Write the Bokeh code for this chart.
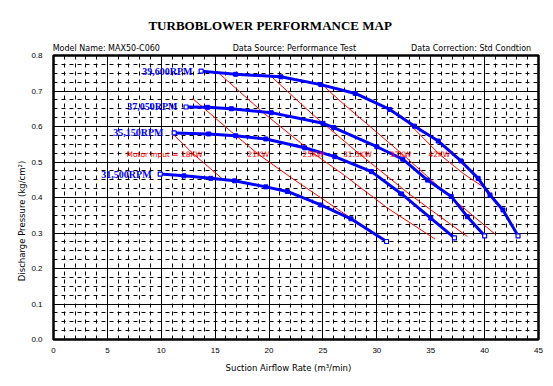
from bokeh.plotting import figure
from bokeh.models import Range1d, SingleIntervalTicker, FixedTicker, Label, LinearAxis, PrintfTickFormatter
from bokeh.embed import file_html
from bokeh.resources import INLINE

# ---- data ----
rpm_names = ["39,600RPM", "37,050RPM", "35,150RPM", "31,500RPM"]
rpm39600_x = [13.7, 16.9, 21.1, 24.8, 28.0, 31.2, 33.5, 35.7, 37.8, 39.4, 40.5, 41.7, 43.1]
rpm39600_y = [0.756, 0.747, 0.740, 0.718, 0.693, 0.648, 0.601, 0.559, 0.503, 0.454, 0.407, 0.365, 0.292]
rpm37050_x = [12.3, 14.3, 16.5, 20.2, 25.0, 26.0, 30.0, 32.4, 34.7, 36.9, 38.4, 40.0]
rpm37050_y = [0.655, 0.654, 0.650, 0.639, 0.609, 0.597, 0.543, 0.508, 0.449, 0.403, 0.346, 0.292]
rpm35150_x = [11.2, 14.4, 16.9, 19.7, 23.3, 26.1, 29.5, 32.3, 35.0, 37.2]
rpm35150_y = [0.582, 0.579, 0.574, 0.565, 0.540, 0.515, 0.473, 0.410, 0.342, 0.286]
rpm31500_x = [9.9, 12.1, 14.6, 16.8, 19.7, 21.7, 24.8, 27.6, 30.9]
rpm31500_y = [0.466, 0.461, 0.454, 0.447, 0.430, 0.417, 0.379, 0.340, 0.276]
rpm_label_x = [12.9, 11.5, 10.2, 9.1]

power_names = ["Motor Input = 18KW", "21KW", "25KW", "31.5KW", "37KW", "42KW"]
power_label_x = [10.3, 19.0, 24.1, 28.2, 32.2, 35.8]
power_label_y = 0.521
kw18_x = [11.1, 13.0, 15.8]
kw18_y = [0.578, 0.522, 0.449]
kw21_x = [12.9, 16.5, 19.0, 22.0, 26.7, 30.9]
kw21_y = [0.679, 0.585, 0.522, 0.457, 0.360, 0.276]
kw25_x = [15.2, 19.5, 24.1, 26.7, 31.0, 35.4]
kw25_y = [0.754, 0.638, 0.525, 0.469, 0.370, 0.283]
kw315_x = [20.1, 24.0, 28.3, 33.0, 38.4]
kw315_y = [0.744, 0.635, 0.525, 0.410, 0.290]
kw37_x = [25.0, 26.7, 32.3, 36.5, 41.0]
kw37_y = [0.716, 0.669, 0.524, 0.410, 0.296]
kw42_x = [32.2, 35.8, 38.0, 40.3, 41.8]
kw42_y = [0.632, 0.522, 0.468, 0.421, 0.357]

title_text = "TURBOBLOWER PERFORMANCE MAP"
title_x = 20.1
header_texts = ["Model Name: MAX50-C060", "Data Source: Performance Test", "Data Correction: Std Condtion"]
header_x = [4.9, 22.35, 38.75]
x_title = "Suction Airflow Rate (m\u00b3/min)"
x_title_pos = 21.8
y_title = "Discharge Pressure (kg/cm\u00b2)"
y_title_pos = 0.334

BLUE = "#0000FF"
RED = "#FF0000"

p = figure(width=545, height=376, output_backend="svg", toolbar_location=None,
           x_range=Range1d(0, 45), y_range=Range1d(0, 0.8),
           min_border_left=53, min_border_right=7, min_border_top=55, min_border_bottom=37)
p.background_fill_color = "white"
p.border_fill_color = "white"
p.outline_line_color = "black"
p.outline_line_width = 2.5


def plain_axis(ax, font, size, standoff, style="normal"):
    ax.axis_line_color = None
    ax.major_tick_line_color = None
    ax.minor_tick_line_color = None
    ax.major_tick_out = 0
    ax.major_tick_in = 0
    ax.minor_tick_out = 0
    ax.minor_tick_in = 0
    ax.major_label_text_font = font
    ax.major_label_text_font_size = size
    ax.major_label_text_font_style = style
    ax.major_label_text_color = "black"
    ax.major_label_standoff = standoff


x_ticker = SingleIntervalTicker(interval=5, num_minor_ticks=5)
y_ticker = SingleIntervalTicker(interval=0.1, num_minor_ticks=4)
xa = p.xaxis[0]
ya = p.yaxis[0]
xa.ticker = x_ticker
ya.ticker = y_ticker
ya.formatter = PrintfTickFormatter(format="%.1f")
plain_axis(xa, "Liberation Sans", "8px", 8)
plain_axis(ya, "Liberation Sans", "8px", 11)

xg = p.xgrid[0]
yg = p.ygrid[0]
xg.ticker = x_ticker
yg.ticker = y_ticker
for g in (xg, yg):
    g.grid_line_color = "black"
    g.grid_line_width = 1
    g.grid_line_alpha = 1.0
    g.minor_grid_line_color = "black"
    g.minor_grid_line_width = 1
    g.minor_grid_line_dash = "4 4"

# header row (closest above the frame) and title (above it)
hdr = LinearAxis(ticker=FixedTicker(ticks=header_x),
                 major_label_overrides={hx: t for hx, t in zip(header_x, header_texts)})
plain_axis(hdr, "DejaVu Sans", "8px", 3)
p.add_layout(hdr, "above")
ttl = LinearAxis(ticker=FixedTicker(ticks=[title_x]),
                 major_label_overrides={title_x: title_text})
plain_axis(ttl, "Liberation Serif", "13px", 8, "bold")
p.add_layout(ttl, "above")

# axis titles
xt = LinearAxis(ticker=FixedTicker(ticks=[x_title_pos]),
                major_label_overrides={x_title_pos: x_title})
plain_axis(xt, "DejaVu Sans", "8.5px", 7)
p.add_layout(xt, "below")
yt = LinearAxis(ticker=FixedTicker(ticks=[y_title_pos]),
                major_label_overrides={y_title_pos: y_title}, major_label_orientation="vertical")
plain_axis(yt, "DejaVu Sans", "8.5px", 1)
p.add_layout(yt, "left")

# power lines
for xs, ys in [(kw18_x, kw18_y), (kw21_x, kw21_y), (kw25_x, kw25_y),
               (kw315_x, kw315_y), (kw37_x, kw37_y), (kw42_x, kw42_y)]:
    p.line(xs, ys, line_color=RED, line_width=1)

# rpm curves
curves = [(rpm39600_x, rpm39600_y), (rpm37050_x, rpm37050_y),
          (rpm35150_x, rpm35150_y), (rpm31500_x, rpm31500_y)]
for (xs, ys), name, lx in zip(curves, rpm_names, rpm_label_x):
    p.line(xs, ys, line_color=BLUE, line_width=3)
    p.scatter(xs[1:-1], ys[1:-1], marker="square", size=4, color=BLUE)
    p.scatter([xs[0], xs[-1]], [ys[0], ys[-1]], marker="square", size=4,
              line_color=BLUE, fill_color="white", line_width=1.2)
    p.add_layout(Label(x=lx, y=ys[0], text=name, text_align="right", text_baseline="middle",
                       text_font="Liberation Serif", text_font_style="bold",
                       text_font_size="10px", text_color=BLUE))

for name, lx in zip(power_names, power_label_x):
    p.add_layout(Label(x=lx, y=power_label_y, text=name, text_align="center",
                       text_baseline="middle", text_font="DejaVu Sans",
                       text_font_size="7.5px", text_color=RED))

open("out.html", "w").write(file_html(p, INLINE))
